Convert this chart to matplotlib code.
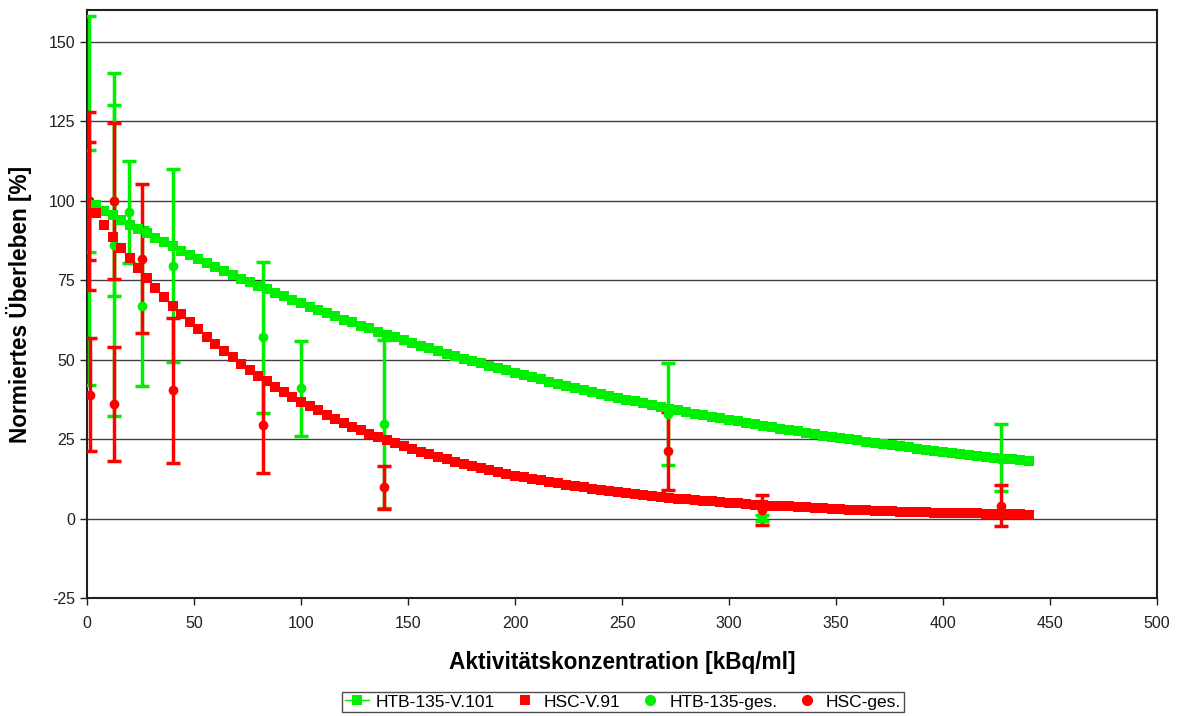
import matplotlib
matplotlib.use("Agg")
import matplotlib.pyplot as plt
from matplotlib.lines import Line2D

plt.rcParams['font.family'] = ['Liberation Sans', 'DejaVu Sans']
plt.rcParams['axes.unicode_minus'] = False

# Fitted curves (x grid in kBq/ml)
fit_x = list(range(4, 441, 4))
htb_fit = [98.5, 96.9, 95.4, 94.0, 92.5, 91.1, 89.7, 88.3, 86.9,
           85.6, 84.2, 82.9, 81.6, 80.4, 79.1, 77.9, 76.7, 75.5, 74.4,
           73.2, 72.1, 71.0, 69.9, 68.8, 67.7, 66.7, 65.6, 64.6, 63.6,
           62.6, 61.7, 60.7, 59.8, 58.8, 57.9, 57.0, 56.2, 55.3, 54.4,
           53.6, 52.8, 51.9, 51.1, 50.3, 49.6, 48.8, 48.0, 47.3, 46.6,
           45.8, 45.1, 44.4, 43.8, 43.1, 42.4, 41.8, 41.1, 40.5, 39.8,
           39.2, 38.6, 38.0, 37.4, 36.9, 36.3, 35.7, 35.2, 34.6, 34.1,
           33.6, 33.0, 32.5, 32.0, 31.5, 31.0, 30.6, 30.1, 29.6, 29.2,
           28.7, 28.3, 27.8, 27.4, 27.0, 26.6, 26.1, 25.7, 25.3, 25.0,
           24.6, 24.2, 23.8, 23.4, 23.1, 22.7, 22.4, 22.0, 21.7, 21.3,
           21.0, 20.7, 20.4, 20.1, 19.7, 19.4, 19.1, 18.8, 18.6, 18.3,
           18.0]
hsc_fit = [96.1, 92.3, 88.7, 85.2, 81.9, 78.7, 75.6, 72.6, 69.8,
           67.0, 64.4, 61.9, 59.5, 57.1, 54.9, 52.7, 50.7, 48.7, 46.8,
           44.9, 43.2, 41.5, 39.9, 38.3, 36.8, 35.4, 34.0, 32.6, 31.4,
           30.1, 28.9, 27.8, 26.7, 25.7, 24.7, 23.7, 22.8, 21.9, 21.0,
           20.2, 19.4, 18.6, 17.9, 17.2, 16.5, 15.9, 15.3, 14.7, 14.1,
           13.5, 13.0, 12.5, 12.0, 11.5, 11.1, 10.7, 10.2, 9.8, 9.4,
           9.1, 8.7, 8.4, 8.1, 7.7, 7.4, 7.1, 6.9, 6.6, 6.3,
           6.1, 5.8, 5.6, 5.4, 5.2, 5.0, 4.8, 4.6, 4.4, 4.2,
           4.1, 3.9, 3.8, 3.6, 3.5, 3.3, 3.2, 3.1, 3.0, 2.8,
           2.7, 2.6, 2.5, 2.4, 2.3, 2.2, 2.2, 2.1, 2.0, 1.9,
           1.8, 1.8, 1.7, 1.6, 1.6, 1.5, 1.4, 1.4, 1.3, 1.3,
           1.2]

# Measured points with error bars
htb_x = [1, 1, 12.5, 12.5, 19.6, 25.5, 40.3, 82.4, 100, 139, 271.3, 315.3, 427.1]
htb_y = [100, 100, 100, 86.2, 96.5, 66.8, 79.6, 57.0, 41.0, 29.7, 32.8, 0.2, 19.1]
htb_err = [58, 16, 30, 54, 16, 25, 30.5, 23.8, 15, 26.5, 16, 1.0, 10.5]

hsc_x = [1, 1, 1.5, 12.5, 12.5, 25.5, 40.3, 82.4, 139, 271.3, 315.3, 427.1]
hsc_y = [100, 100, 39.0, 100, 36.0, 81.8, 40.3, 29.3, 9.8, 21.2, 2.7, 4.1]
hsc_err = [28, 18.5, 17.7, 24.6, 18, 23.5, 22.7, 15, 6.8, 12.3, 4.6, 6.3]

GREEN = '#00ee00'
RED = '#ff0000'

fig = plt.figure(figsize=(11.82, 7.16), dpi=100)
ax = fig.add_axes([0.0736, 0.1648, 0.9053, 0.8212])

ax.set_xlim(0, 500)
ax.set_ylim(-25, 160)
ax.set_xticks(range(0, 501, 50))
ax.set_yticks(range(-25, 151, 25))
ax.yaxis.grid(True, color='#404040', linewidth=1.0)
ax.set_axisbelow(True)
for s in ax.spines.values():
    s.set_linewidth(1.5)
    s.set_color('#202020')
ax.tick_params(direction='out', length=5, width=1, labelsize=11.5, colors='#202020')
ax.tick_params(axis='x', pad=8)

ax.errorbar(htb_x, htb_y, yerr=htb_err, fmt='o', color=GREEN, ecolor=GREEN,
            markersize=6, elinewidth=2.5, capsize=5, capthick=2.5, zorder=3)
ax.errorbar(hsc_x, hsc_y, yerr=hsc_err, fmt='o', color=RED, ecolor=RED,
            markersize=6, elinewidth=2.5, capsize=5, capthick=2.5, zorder=3)
ax.plot(fit_x, htb_fit, '-s', color=GREEN, markersize=7, linewidth=1,
        markeredgewidth=0, zorder=4)
ax.plot(fit_x, hsc_fit, 's', color=RED, markersize=7,
        markeredgewidth=0, zorder=4)

ax.set_xlabel('Aktivitätskonzentration [kBq/ml]', fontsize=16.3, fontweight='bold', labelpad=14)
ax.set_ylabel('Normiertes Überleben [%]', fontsize=16.3, fontweight='bold', labelpad=12)

handles = [
    Line2D([], [], color=GREEN, marker='s', linewidth=1, markersize=7, markeredgewidth=0),
    Line2D([], [], color=RED, marker='s', linestyle='none', markersize=7, markeredgewidth=0),
    Line2D([], [], color=GREEN, marker='o', linestyle='none', markersize=7),
    Line2D([], [], color=RED, marker='o', linestyle='none', markersize=7),
]
labels = ['HTB-135-V.101', 'HSC-V.91', 'HTB-135-ges.', 'HSC-ges.']
leg = fig.legend(handles, labels, loc='center', bbox_to_anchor=(0.527, 0.0196), ncol=4,
                 fontsize=12.5, frameon=True, fancybox=False, borderpad=0.15,
                 handlelength=1.4, columnspacing=1.0, handletextpad=0.4)
leg.get_frame().set_edgecolor('#202020')
leg.get_frame().set_linewidth(1.0)

fig.savefig('out.png', dpi=100)
